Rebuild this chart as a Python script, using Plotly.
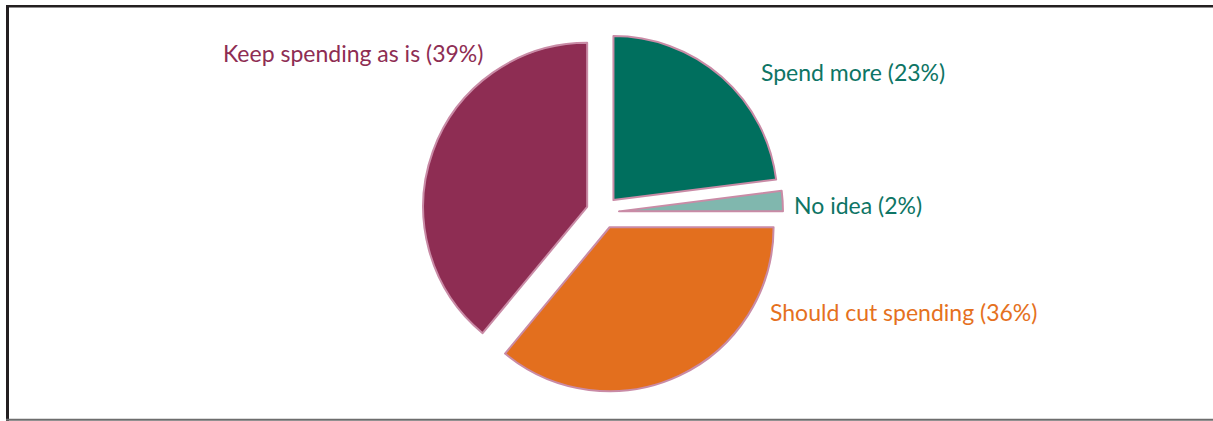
import plotly.graph_objects as go

labels = ["Spend more", "No idea", "Should cut spending", "Keep spending as is"]
values = [23, 2, 36, 39]
slice_colors = ["#006F5E", "#80B7AE", "#E36F1E", "#8E2D53"]
text_colors = ["#0E7565", "#0E7565", "#E5711E", "#8E2D53"]
pulls = [0.1, 0.1, 0.1, 0.1]

W, H = 1213, 421

# label anchor positions in pixels (left x, center y)
label_pos = [(759, 72), (792, 205), (768, 312), (221, 53)]

fig = go.Figure()
fig.add_trace(go.Pie(
    labels=labels, values=values, sort=False, direction="clockwise", rotation=0,
    pull=pulls, textinfo="none", hoverinfo="label+percent",
    marker=dict(colors=slice_colors, line=dict(color="#C98BA6", width=2)),
    domain=dict(x=[(602.6 - 180.4) / W, (602.6 + 180.4) / W],
                y=[(H - 392.8) / H, (H - 32.0) / H]),
    showlegend=False,
))

for (lab, v, c, (px, py)) in zip(labels, values, text_colors, label_pos):
    fig.add_annotation(
        x=px / W, y=1 - py / H, xref="paper", yref="paper",
        xanchor="left", yanchor="middle", showarrow=False,
        text=f"{lab} ({v}%)", font=dict(family="Lato", size=23, color=c),
    )

# frame
fig.add_shape(type="line", xref="paper", yref="paper",
              x0=7.5 / W, x1=7.5 / W, y0=0, y1=1 - 5 / H,
              line=dict(color="#231F20", width=3))
fig.add_shape(type="line", xref="paper", yref="paper",
              x0=6 / W, x1=1, y0=1 - 6.2 / H, y1=1 - 6.2 / H,
              line=dict(color="#231F20", width=2.5))
fig.add_shape(type="line", xref="paper", yref="paper",
              x0=6 / W, x1=1, y0=1 - 419.8 / H, y1=1 - 419.8 / H,
              line=dict(color="#6D6D6D", width=2))

fig.update_layout(
    width=W, height=H, margin=dict(l=0, r=0, t=0, b=0),
    paper_bgcolor="white", plot_bgcolor="white",
)
fig.write_html("out.html")
